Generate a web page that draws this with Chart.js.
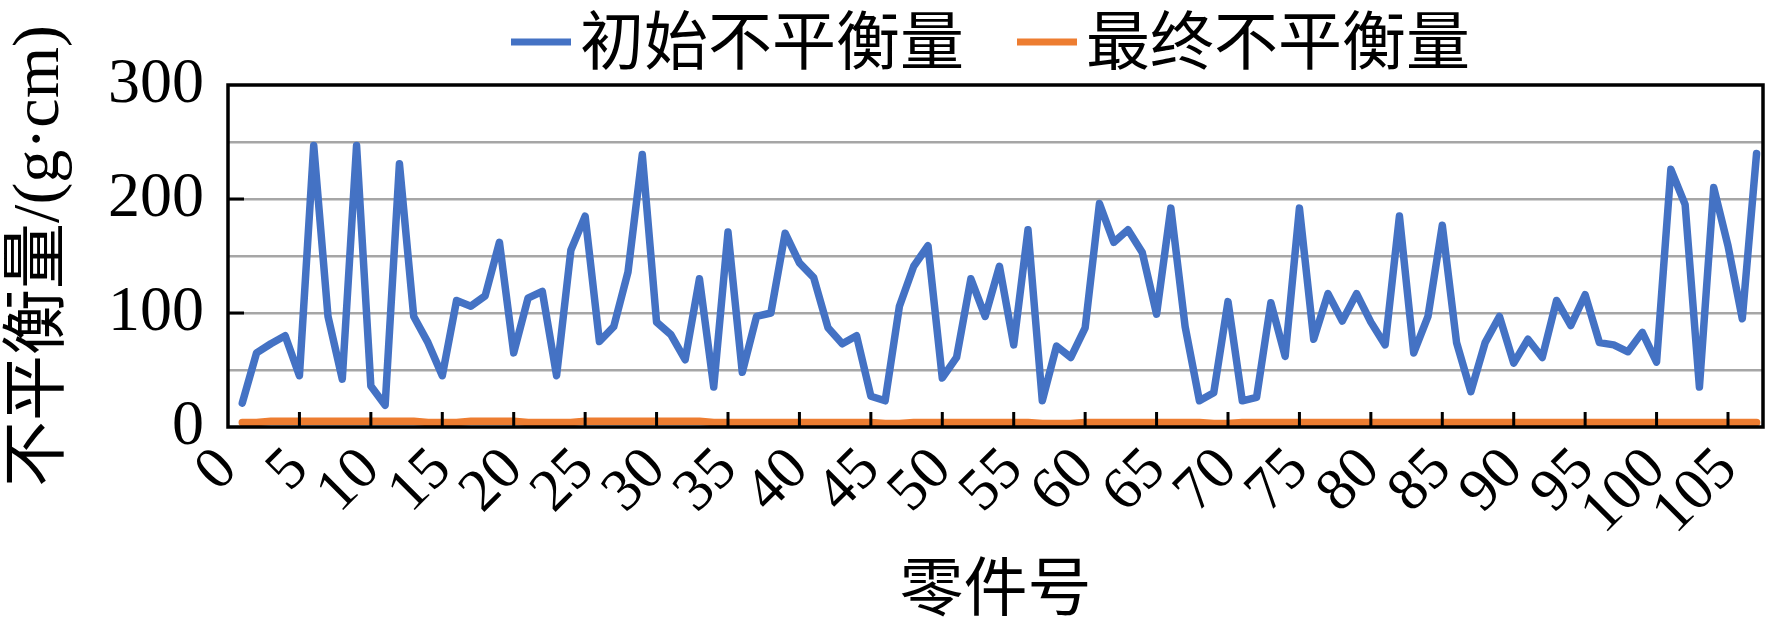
<!DOCTYPE html>
<html>
<head>
<meta charset="utf-8">
<script src="https://cdn.jsdelivr.net/npm/chart.js@4.4.0/dist/chart.umd.min.js"></script>
<style>
html,body{margin:0;padding:0;background:#fff;}
canvas{display:block;}
</style>
</head>
<body>
<canvas id="c" width="1772" height="638"></canvas>
<script>
const partNumbers = [1,2,3,4,5,6,7,8,9,10,11,12,13,14,15,16,17,18,19,20,21,22,23,24,25,26,27,28,29,30,31,32,33,34,35,36,37,38,39,40,41,42,43,44,45,46,47,48,49,50,51,52,53,54,55,56,57,58,59,60,61,62,63,64,65,66,67,68,69,70,71,72,73,74,75,76,77,78,79,80,81,82,83,84,85,86,87,88,89,90,91,92,93,94,95,96,97,98,99,100,101,102,103,104,105,106,107];
const initialUnbalance = [21,65,73,80,45,247,97,42,247,36,19,231,97,74,45,111,106,115,162,65,113,119,45,155,185,75,88,136,239,92,81,59,130,35,171,48,97,100,170,144,131,87,73,80,27,23,106,141,159,43,61,130,97,141,72,173,23,71,61,87,196,162,173,153,99,192,88,23,30,110,23,26,109,62,192,77,117,93,117,92,72,185,65,97,177,74,31,74,97,56,77,61,111,89,116,74,72,66,83,57,226,195,35,210,159,95,240];
const finalUnbalance = [4,4,5,5,5,5,5,5,5,5,5,5,5,4,4,4,5,5,5,5,4,4,4,4,5,5,5,5,5,5,5,5,5,4,4,4,4,4,4,4,4,4,4,4,4,3,3,4,4,4,4,4,4,4,4,4,3,3,3,4,4,4,4,4,4,4,4,4,3,3,4,4,4,4,4,4,4,4,4,4,4,4,4,4,4,4,4,4,4,4,4,4,4,4,4,4,4,4,4,4,4,4,4,4,4,4,4];
const seriesNames = ['初始不平衡量', '最终不平衡量'];
const seriesColors = ['#4472C4', '#ED7D31'];
const xTickValues = [0,5,10,15,20,25,30,35,40,45,50,55,60,65,70,75,80,85,90,95,100,105];
const yGridValues = [0,50,100,150,200,250,300];
const yTickLabels = [0,100,200,300];
const xTitle = '零件号';
const yTitle = '不平衡量/(g·cm)';

const serif = '"Liberation Serif", "Noto Sans CJK SC", serif';

const legendPlugin = {
  id: 'topLegend',
  afterDraw(chart) {
    const ctx = chart.ctx;
    ctx.save();
    ctx.font = '64px "Noto Sans CJK SC"';
    ctx.textBaseline = 'middle';
    const starts = [511, 1017];
    chart.data.datasets.forEach((ds, i) => {
      const x = starts[i];
      ctx.fillStyle = ds.borderColor;
      ctx.fillRect(x, 38.5, 60, 7);
      ctx.fillStyle = '#000';
      ctx.fillText(ds.label, x + 69, 40);
    });
    ctx.restore();
  }
};

const framePlugin = {
  id: 'frame',
  afterDatasetsDraw(chart) {
    const {ctx, chartArea: a, scales} = chart;
    const x = scales.x, y = scales.y;
    ctx.save();
    ctx.strokeStyle = '#000';
    ctx.lineWidth = 3.5;
    ctx.strokeRect(a.left, a.top, a.right - a.left, a.bottom - a.top);
    ctx.lineWidth = 3;
    ctx.beginPath();
    xTickValues.forEach(v => {
      if (v === 0) return;
      const px = x.getPixelForValue(v);
      ctx.moveTo(px, a.bottom);
      ctx.lineTo(px, a.bottom - 15);
    });
    yTickLabels.forEach(v => {
      if (v === 0 || v === 300) return;
      const py = y.getPixelForValue(v);
      ctx.moveTo(a.left, py);
      ctx.lineTo(a.left + 16, py);
    });
    ctx.stroke();
    ctx.restore();
  }
};

const toPoints = vals => vals.map((v, i) => ({x: partNumbers[i], y: v}));

new Chart(document.getElementById('c'), {
  type: 'line',
  data: {
    datasets: [
      {label: seriesNames[0], data: toPoints(initialUnbalance), borderColor: seriesColors[0], backgroundColor: seriesColors[0], borderWidth: 7.5, pointRadius: 0, tension: 0, borderJoinStyle: 'round', borderCapStyle: 'round'},
      {label: seriesNames[1], data: toPoints(finalUnbalance), borderColor: seriesColors[1], backgroundColor: seriesColors[1], borderWidth: 7.5, pointRadius: 0, tension: 0, borderJoinStyle: 'round', borderCapStyle: 'round'}
    ]
  },
  options: {
    responsive: false,
    animation: false,
    devicePixelRatio: 1,
    layout: {padding: {top: 85, right: 9, left: 0, bottom: 0}},
    plugins: {legend: {display: false}, tooltip: {enabled: false}},
    scales: {
      x: {
        type: 'linear', min: 0, max: 107.45,
        afterBuildTicks: s => { s.ticks = xTickValues.map(v => ({value: v})); },
        ticks: {autoSkip: false, minRotation: 45, maxRotation: 45, padding: 12, color: '#000',
          font: {family: serif, size: 60, lineHeight: 1}, callback: v => String(v)},
        grid: {display: false, drawTicks: false},
        border: {display: false},
        title: {display: true, text: xTitle, color: '#000', font: {family: serif, size: 64, lineHeight: 1}, padding: {top: 0, bottom: 13}},
        afterFit: s => { s.height = 211; s.paddingLeft = 0; s.paddingRight = 0; }
      },
      y: {
        type: 'linear', min: 0, max: 300,
        afterBuildTicks: s => { s.ticks = yGridValues.map(v => ({value: v})); },
        ticks: {autoSkip: false, padding: 24, color: '#000', font: {family: serif, size: 64, lineHeight: 1},
          callback: v => yTickLabels.includes(v) ? String(v) : ''},
        grid: {color: c => (c.tick && (c.tick.value === 0 || c.tick.value === 300)) ? 'rgba(0,0,0,0)' : '#a6a6a6', lineWidth: 2.5, drawTicks: false},
        border: {display: false},
        title: {display: true, text: yTitle, color: '#000', font: {family: serif, size: 66, lineHeight: 1}, padding: {top: 8, bottom: 0}},
        afterFit: s => { s.width = 228; }
      }
    }
  },
  plugins: [framePlugin, legendPlugin]
});
</script>
</body>
</html>
